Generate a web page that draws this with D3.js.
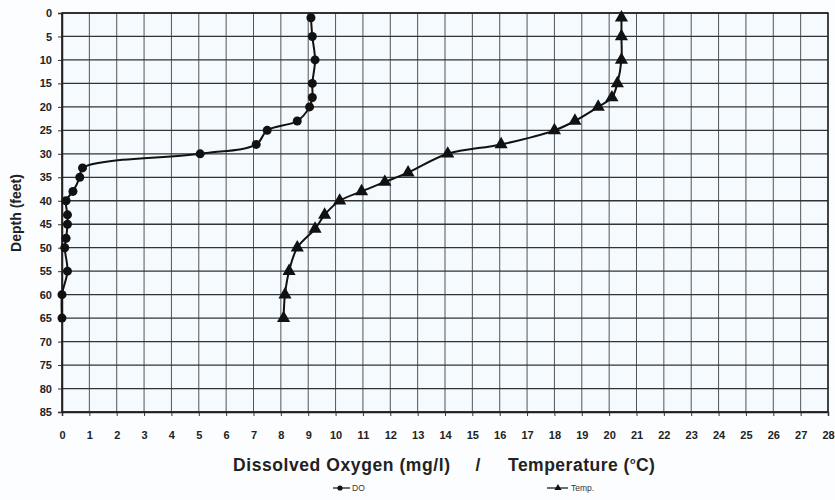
<!DOCTYPE html>
<html>
<head>
<meta charset="utf-8">
<script src="https://d3js.org/d3.v7.min.js"></script>
<style>
  body { margin: 0; background: #fbfdfe; }
  svg { display: block; font-family: "Liberation Sans", Arial, sans-serif; }
</style>
</head>
<body>
<svg id="chart" width="835" height="500"></svg>
<script>
// dissolved oxygen profile
const doDepth = [1, 5, 10, 15, 18, 20, 23, 25, 28, 30, 33, 35, 38, 40, 43, 45, 48, 50, 55, 60, 65];
const doValue = [9.1, 9.15, 9.25, 9.15, 9.15, 9.05, 8.6, 7.5, 7.1, 5.05, 0.75, 0.65, 0.4, 0.15, 0.2, 0.2, 0.15, 0.1, 0.2, 0.0, 0.0];

// temperature profile
const tempDepth = [1, 5, 10, 15, 18, 20, 23, 25, 28, 30, 34, 36, 38, 40, 43, 46, 50, 55, 60, 65];
const tempValue = [20.45, 20.45, 20.45, 20.3, 20.1, 19.6, 18.75, 18.0, 16.05, 14.1, 12.65, 11.8, 10.95, 10.15, 9.6, 9.25, 8.6, 8.3, 8.15, 8.1];

const xTicks = d3.range(0, 29, 1);
const yTicks = d3.range(0, 90, 5);

const svg = d3.select("#chart");
const margin = { top: 13, right: 7, bottom: 88, left: 62 };
const width = 835, height = 500;
const innerW = width - margin.left - margin.right;
const innerH = height - margin.top - margin.bottom;

const x = d3.scaleLinear().domain([0, 28]).range([margin.left, margin.left + innerW]);
const y = d3.scaleLinear().domain([0, 85]).range([margin.top, margin.top + innerH]);

// plot background
svg.append("rect")
  .attr("x", x(0)).attr("y", y(0))
  .attr("width", innerW).attr("height", innerH)
  .attr("fill", "#f4fafd");

// grid
svg.append("g").selectAll("line").data(xTicks).join("line")
  .attr("x1", d => x(d)).attr("x2", d => x(d))
  .attr("y1", y(0)).attr("y2", y(85))
  .attr("stroke", "#555").attr("stroke-width", 1);

svg.append("g").selectAll("line").data(yTicks).join("line")
  .attr("x1", x(0)).attr("x2", x(28))
  .attr("y1", d => y(d)).attr("y2", d => y(d))
  .attr("stroke", "#333").attr("stroke-width", 1.3);

// axes
const xAxis = d3.axisBottom(x).tickValues(xTicks).tickSize(4).tickPadding(15);
const yAxis = d3.axisLeft(y).tickValues(yTicks).tickSize(4).tickPadding(6);

const gx = svg.append("g").attr("transform", `translate(0,${y(85)})`).call(xAxis);
const gy = svg.append("g").attr("transform", `translate(${x(0)},0)`).call(yAxis);

[gx, gy].forEach(g => {
  g.select(".domain").attr("stroke", "#222").attr("stroke-width", 1.5);
  g.selectAll(".tick line").attr("stroke", "#333");
  g.selectAll(".tick text")
    .attr("font-size", 11)
    .attr("font-weight", "bold")
    .attr("fill", "#222");
});

// frame
svg.append("rect")
  .attr("x", x(0)).attr("y", y(0))
  .attr("width", innerW).attr("height", innerH)
  .attr("fill", "none").attr("stroke", "#222").attr("stroke-width", 1.5);

// series
const doData = doDepth.map((d, i) => ({ depth: d, v: doValue[i] }));
const tempData = tempDepth.map((d, i) => ({ depth: d, v: tempValue[i] }));

const line = d3.line()
  .x(d => x(d.v))
  .y(d => y(d.depth))
  .curve(d3.curveCatmullRom.alpha(0.5));

svg.append("path").datum(doData)
  .attr("d", line).attr("fill", "none")
  .attr("stroke", "#111").attr("stroke-width", 2);

svg.append("path").datum(tempData)
  .attr("d", line).attr("fill", "none")
  .attr("stroke", "#111").attr("stroke-width", 2);

svg.append("g").selectAll("circle").data(doData).join("circle")
  .attr("cx", d => x(d.v)).attr("cy", d => y(d.depth))
  .attr("r", 4.5).attr("fill", "#111");

const tri = d3.symbol().type(d3.symbolTriangle).size(75);
svg.append("g").selectAll("path").data(tempData).join("path")
  .attr("d", tri)
  .attr("transform", d => `translate(${x(d.v)},${y(d.depth)})`)
  .attr("fill", "#111");

// axis titles
svg.append("text")
  .attr("transform", "translate(21,213) rotate(-90)")
  .attr("text-anchor", "middle")
  .attr("font-size", 14).attr("font-weight", "bold")
  .attr("fill", "#222")
  .text("Depth (feet)");

const titleStyle = t => t
  .attr("y", 471)
  .attr("font-size", 17.5).attr("font-weight", "bold")
  .attr("fill", "#222");

titleStyle(svg.append("text"))
  .attr("x", 233)
  .attr("textLength", 217).attr("lengthAdjust", "spacing")
  .text("Dissolved Oxygen (mg/l)");

titleStyle(svg.append("text"))
  .attr("x", 478).attr("text-anchor", "middle")
  .text("/");

const temp = titleStyle(svg.append("text")).attr("x", 508).attr("letter-spacing", 0.5);
temp.append("tspan").text("Temperature (");
temp.append("tspan").attr("font-size", 9).attr("dy", -7).text("o");
temp.append("tspan").attr("dy", 7).text("C)");

// legend
const legend = svg.append("g").attr("font-size", 8.5).attr("fill", "#333");
legend.append("line").attr("x1", 333).attr("x2", 350).attr("y1", 488).attr("y2", 488)
  .attr("stroke", "#111").attr("stroke-width", 1.2);
legend.append("circle").attr("cx", 340).attr("cy", 488).attr("r", 2.6).attr("fill", "#111");
legend.append("text").attr("x", 352).attr("y", 491).text("DO");

legend.append("line").attr("x1", 547).attr("x2", 568).attr("y1", 488).attr("y2", 488)
  .attr("stroke", "#111").attr("stroke-width", 1.2);
legend.append("path").attr("d", d3.symbol().type(d3.symbolTriangle).size(22))
  .attr("transform", "translate(558,488)").attr("fill", "#111");
legend.append("text").attr("x", 571).attr("y", 491).text("Temp.");
</script>
</body>
</html>
